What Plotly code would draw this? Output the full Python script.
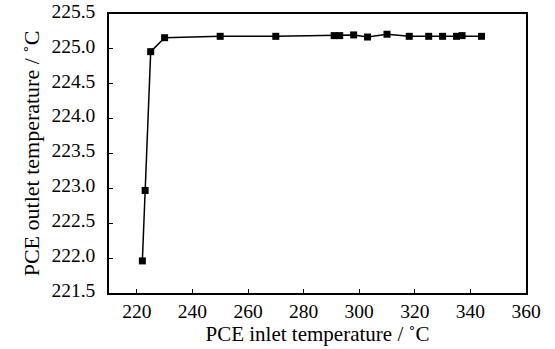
import plotly.graph_objects as go

inlet_temp = [222, 223, 225, 230, 250, 270, 291, 293, 298, 303, 310, 318, 325, 330, 335, 337, 344]
outlet_temp = [221.96, 222.97, 224.96, 225.16, 225.18, 225.18, 225.19, 225.19, 225.20, 225.17,
               225.21, 225.18, 225.18, 225.18, 225.18, 225.19, 225.18]

x_ticks = [220, 240, 260, 280, 300, 320, 340, 360]
y_ticks = [221.5, 222.0, 222.5, 223.0, 223.5, 224.0, 224.5, 225.0, 225.5]

fam = "Liberation Serif, Times New Roman, serif"
tick_font = dict(family=fam, size=19.5, color="black")
xtitle_font = dict(family=fam, size=21, color="black")
ytitle_font = dict(family=fam, size=22, color="black")

fig = go.Figure(go.Scatter(
    x=inlet_temp, y=outlet_temp, mode="lines+markers",
    line=dict(color="black", width=1.5),
    marker=dict(symbol="square", size=7, color="black"),
    showlegend=False,
))

fig.update_layout(
    width=555, height=349,
    margin=dict(l=109, r=29, t=14, b=56),
    paper_bgcolor="white", plot_bgcolor="white",
    font=tick_font,
    xaxis=dict(
        range=[210, 360], tickvals=x_ticks, ticktext=[str(v) for v in x_ticks],
        ticks="inside", ticklen=4, tickcolor="black", showgrid=False, zeroline=False,
        showline=True, linecolor="black", linewidth=1.5, mirror=True,
        title=dict(text="PCE inlet temperature / ˚C", font=xtitle_font, standoff=3),
        tickfont=tick_font, ticklabelstandoff=0, automargin=False,
    ),
    yaxis=dict(
        range=[221.5, 225.5], tickvals=y_ticks, ticktext=[f"{v:.1f}" for v in y_ticks],
        ticks="inside", ticklen=4, tickcolor="black", showgrid=False, zeroline=False,
        showline=True, linecolor="black", linewidth=1.5, mirror=True,
        title=dict(text="PCE outlet temperature / ˚C", font=ytitle_font, standoff=6),
        tickfont=tick_font, ticklabelstandoff=8, ticklabelshift=-3, automargin=False,
    ),
)

fig.write_html("out.html")
